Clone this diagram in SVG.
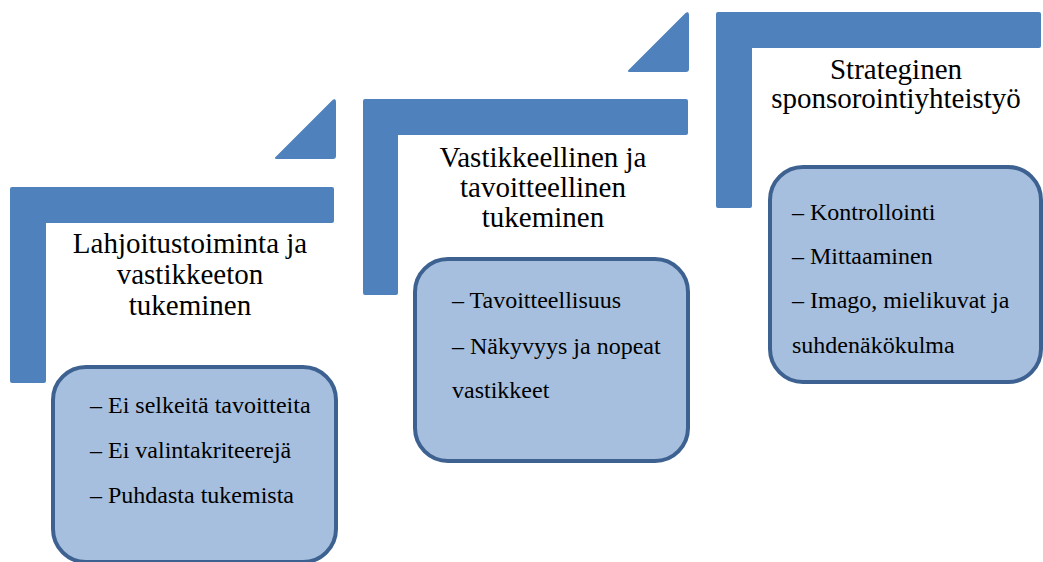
<svg xmlns="http://www.w3.org/2000/svg" width="1043" height="562" viewBox="0 0 1043 562">
  <style>
    .step { fill: #4F81BD; }
    .box { fill: #A7BFDE; stroke: #3D6190; stroke-width: 4; }
    text { font-family: 'Liberation Serif', 'Times New Roman', Times, Tinos, 'Noto Serif', 'DejaVu Serif', FreeSerif, serif; fill: #000; }
    .title { font-size: 29px; text-anchor: middle; }
    .item { font-size: 24px; }
  </style>
  <rect width="1043" height="562" fill="#FFFFFF"/>

  <!-- step connectors: small triangles between the stairs -->
  <g id="connectors">
    <path class="step" d="M276,158 L333,101 Q335,99 335,102 L335,156 Q335,158 333,158 Z" stroke="#4F81BD" stroke-width="2" stroke-linejoin="round"/>
    <path class="step" d="M629,71 L686,14 Q688,12 688,15 L688,69 Q688,71 686,71 Z" stroke="#4F81BD" stroke-width="2" stroke-linejoin="round"/>
  </g>

  <!-- step 1 -->
  <g id="step1">
    <path class="step" d="M12,187 L332,187 Q334,187 334,189 L334,221 Q334,223 332,223 L46,223 L46,381 Q46,383 44,383 L12,383 Q10,383 10,381 L10,189 Q10,187 12,187 Z"/>
    <text class="title" x="190" y="253">Lahjoitustoiminta ja</text>
    <text class="title" x="190" y="284">vastikkeeton</text>
    <text class="title" x="190" y="315">tukeminen</text>
    <rect class="box" x="53" y="367" width="283" height="195" rx="33" ry="33"/>
    <text class="item" x="90" y="413">– Ei selkeitä tavoitteita</text>
    <text class="item" x="90" y="458">– Ei valintakriteerejä</text>
    <text class="item" x="90" y="503">– Puhdasta tukemista</text>
  </g>

  <!-- step 2 -->
  <g id="step2">
    <path class="step" d="M365,99 L686,99 Q688,99 688,101 L688,133 Q688,135 686,135 L398,135 L398,293 Q398,295 396,295 L365,295 Q363,295 363,293 L363,101 Q363,99 365,99 Z"/>
    <text class="title" x="543" y="167">Vastikkeellinen ja</text>
    <text class="title" x="543" y="197">tavoitteellinen</text>
    <text class="title" x="543" y="227">tukeminen</text>
    <rect class="box" x="415" y="259" width="273" height="202" rx="33" ry="33"/>
    <text class="item" x="452" y="308">– Tavoitteellisuus</text>
    <text class="item" x="452" y="354">– Näkyvyys ja nopeat</text>
    <text class="item" x="452" y="398">vastikkeet</text>
  </g>

  <!-- step 3 -->
  <g id="step3">
    <path class="step" d="M718,12 L1039,12 Q1041,12 1041,14 L1041,46 Q1041,48 1039,48 L752,48 L752,206 Q752,208 750,208 L718,208 Q716,208 716,206 L716,14 Q716,12 718,12 Z"/>
    <text class="title" x="896" y="79">Strateginen</text>
    <text class="title" x="896" y="108">sponsorointiyhteistyö</text>
    <rect class="box" x="770" y="167" width="271" height="215" rx="33" ry="33"/>
    <text class="item" x="792" y="220">– Kontrollointi</text>
    <text class="item" x="792" y="264">– Mittaaminen</text>
    <text class="item" x="792" y="308">– Imago, mielikuvat ja</text>
    <text class="item" x="792" y="353">suhdenäkökulma</text>
  </g>
</svg>
